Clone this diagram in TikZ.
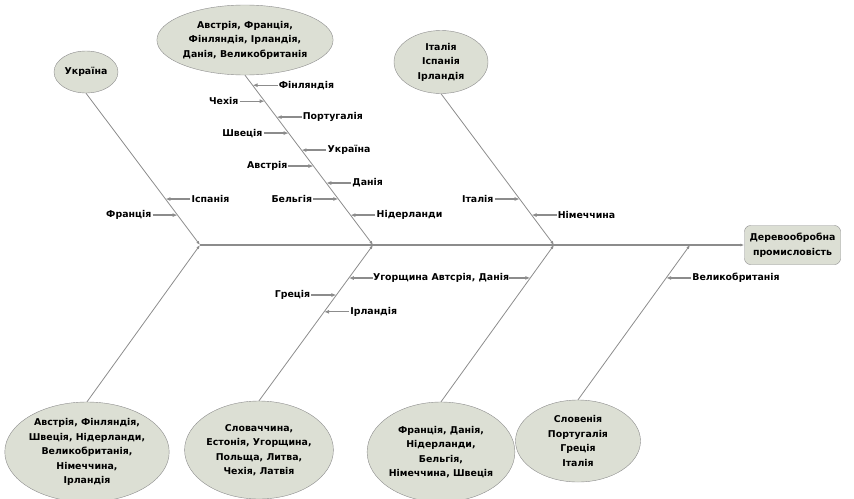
\documentclass[tikz,border=0pt]{standalone}
\usepackage{fontspec}
\setmainfont{DejaVu Sans}
\usetikzlibrary{arrows.meta,positioning,shapes.geometric}
\definecolor{linegray}{HTML}{8C8C8C}
\definecolor{causefill}{HTML}{DCDFD4}

\begin{document}
\begin{tikzpicture}[x=1pt, y=-1pt, >={Latex[length=4pt,width=3pt]}, node distance=25pt, font=\bfseries\fontsize{9.4}{14.5}\selectfont]
	\tikzstyle{cause}=[ellipse, draw=linegray, fill=causefill, align=center, inner sep=0pt]
	\tikzstyle{bone}=[draw=linegray, line width=0.8pt, ->]
	\tikzstyle{twig}=[draw=linegray, line width=1.3pt, -{Latex[length=5pt,width=4pt]}]
	\tikzstyle{lbl}=[inner sep=1pt]
	\useasboundingbox (0,0) rectangle (854,498);

	\coordinate (j1) at (200,245);
	\coordinate (j2) at (373,245);
	\coordinate (j3) at (554,245);
	\coordinate (j4) at (690,245);
	\node[draw=linegray, fill=causefill, rounded corners=6pt, align=center, minimum width=96pt, minimum height=39pt, inner sep=2pt] (effect) at (792.5,245) {Деревообробна\\промисловість};
	\draw[->, draw=linegray, line width=2.2pt] (j1) -- (effect);

	\node[cause, minimum width=64pt, minimum height=42pt] (ukr) at (86,72) {Україна};
	\node[cause, minimum width=176pt, minimum height=70pt] (west) at (245,40) {Австрія, Франція,\\Фінляндія, Ірландія,\\Данія, Великобританія};
	\node[cause, minimum width=94pt, minimum height=63pt] (ital) at (441,62) {Італія\\Іспанія\\Ірландія};
	\node[cause, minimum width=160pt, minimum height=100pt] (aust) at (87,452) {Австрія, Фінляндія,\\Швеція, Нідерланди,\\Великобританія,\\Німеччина,\\Ірландія};
	\node[cause, minimum width=147pt, minimum height=98pt] (slov) at (259,450) {Словаччина,\\Естонія, Угорщина,\\Польща, Литва,\\Чехія, Латвія};
	\node[cause, minimum width=145pt, minimum height=100pt] (fran) at (441,452) {Франція, Данія,\\Нідерланди,\\Бельгія,\\Німеччина, Швеція};
	\node[cause, minimum width=125pt, minimum height=82pt] (slo) at (578,441) {Словенія\\Португалія\\Греція\\Італія};

	\draw[bone] (ukr.south) -- (j1) coordinate[pos=0.697] (pSpa) coordinate[pos=0.803] (pFra);
	\draw[bone] (west.south) -- (j2) coordinate[pos=0.059] (pFin) coordinate[pos=0.153] (pCze)
		coordinate[pos=0.247] (pPor) coordinate[pos=0.341] (pSwe) coordinate[pos=0.441] (pUkr)
		coordinate[pos=0.535] (pAus) coordinate[pos=0.635] (pDen) coordinate[pos=0.729] (pBel)
		coordinate[pos=0.824] (pNet);
	\draw[bone] (ital.south) -- (j3) coordinate[pos=0.696] (pIta) coordinate[pos=0.802] (pGer);
	\draw[bone] (aust.north) -- (j1);
	\draw[bone] (slov.north) -- (j2) coordinate[pos=0.788] (pHun) coordinate[pos=0.679] (pGre) coordinate[pos=0.571] (pIre);
	\draw[bone] (fran.north) -- (j3) coordinate[pos=0.79] (pAuDk);
	\draw[bone] (slo.north) -- (j4) coordinate[pos=0.787] (pGbr);

	\node[lbl, right=of pSpa] (spa) {Іспанія};
	\node[lbl, left=of pFra] (fra) {Франція};
	\node[lbl, right=of pFin] (fin) {Фінляндія};
	\node[lbl, left=of pCze] (cze) {Чехія};
	\node[lbl, right=of pPor] (por) {Португалія};
	\node[lbl, left=of pSwe] (swe) {Швеція};
	\node[lbl, right=of pUkr] (ukrL) {Україна};
	\node[lbl, left=of pAus] (aus) {Австрія};
	\node[lbl, right=of pDen] (den) {Данія};
	\node[lbl, left=of pBel] (bel) {Бельгія};
	\node[lbl, right=of pNet] (net) {Нідерланди};
	\node[lbl, left=of pIta] (ita) {Італія};
	\node[lbl, right=of pGer] (ger) {Німеччина};
	\node[lbl, right=24pt of pHun, inner sep=0pt] (hun) {Угорщина};
	\node[lbl, left=of pGre] (gre) {Греція};
	\node[lbl, right=of pIre] (ire) {Ірландія};
	\node[lbl, left=21pt of pAuDk, inner sep=0pt] (audk) {Автсрія, Данія};
	\node[lbl, right=of pGbr] (gbr) {Великобританія};

	\draw[twig] (spa) -- (pSpa);
	\draw[twig] (fra) -- (pFra);
	\draw[twig] (fin) -- (pFin);
	\draw[twig] (cze) -- (pCze);
	\draw[twig] (por) -- (pPor);
	\draw[twig] (swe) -- (pSwe);
	\draw[twig] (ukrL) -- (pUkr);
	\draw[twig] (aus) -- (pAus);
	\draw[twig] (den) -- (pDen);
	\draw[twig] (bel) -- (pBel);
	\draw[twig] (net) -- (pNet);
	\draw[twig] (ita) -- (pIta);
	\draw[twig] (ger) -- (pGer);
	\draw[twig] (hun) -- (pHun);
	\draw[twig] (gre) -- (pGre);
	\draw[twig] (ire) -- (pIre);
	\draw[twig] (audk) -- (pAuDk);
	\draw[twig] (gbr) -- (pGbr);
\end{tikzpicture}
\end{document}
